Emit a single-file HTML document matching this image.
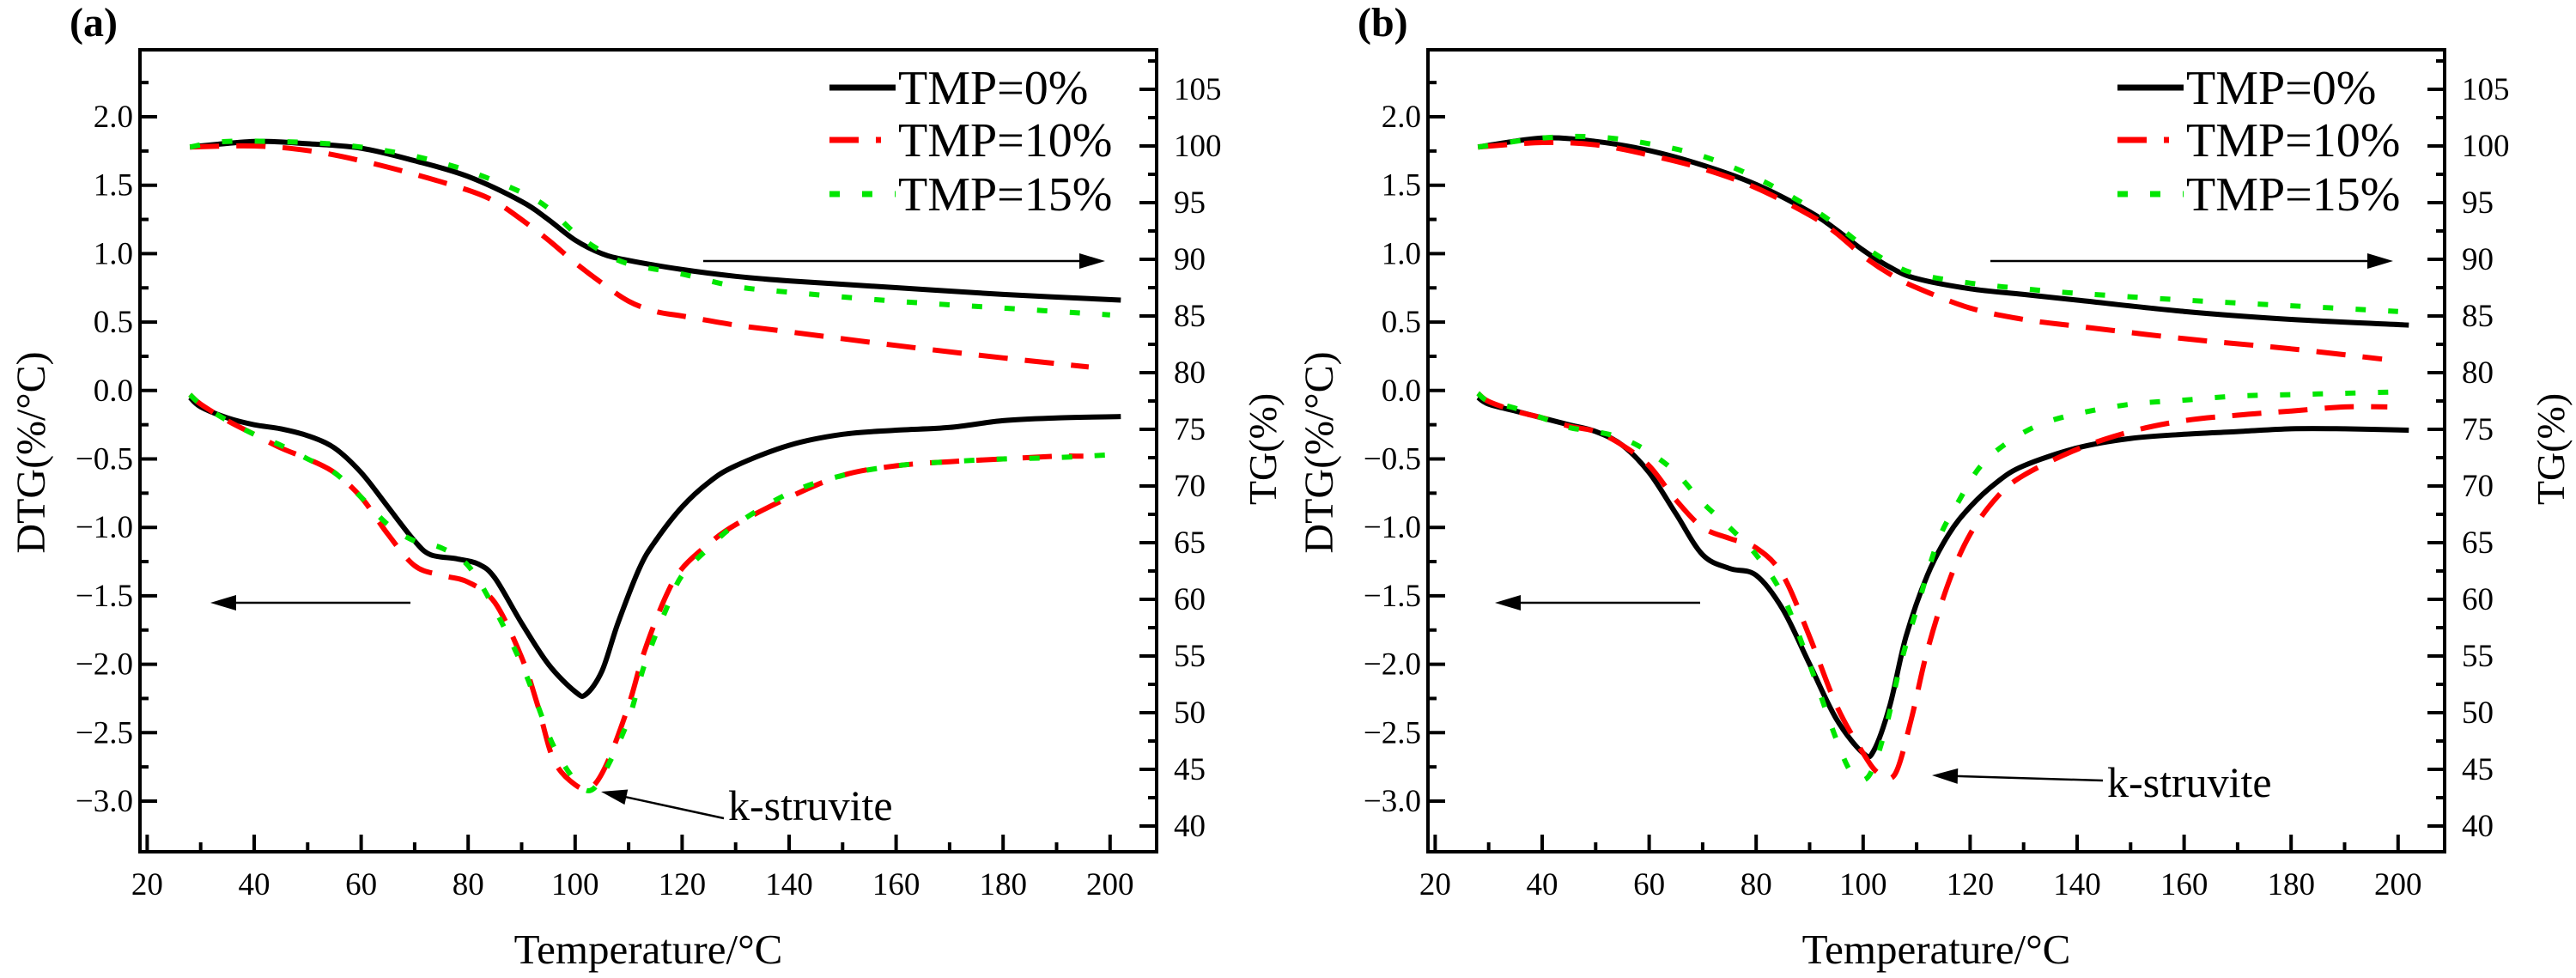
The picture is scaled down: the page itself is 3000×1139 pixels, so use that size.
<!DOCTYPE html>
<html><head><meta charset="utf-8"><style>
html,body{margin:0;padding:0;background:#fff;}
svg{display:block;}
text{font-family:"Liberation Serif","Times New Roman",serif;}
</style></head><body>
<svg id="c" width="3000" height="1139" viewBox="0 0 3000 1139" xmlns="http://www.w3.org/2000/svg" font-family="'Liberation Serif', serif"></svg>
<script>
// ---------- data ----------
const xTicks=[20,40,60,80,100,120,140,160,180,200];
const dtgTicks=[2.0,1.5,1.0,0.5,0.0,-0.5,-1.0,-1.5,-2.0,-2.5,-3.0];
const tgTicks=[105,100,95,90,85,80,75,70,65,60,55,50,45,40];
const seriesNames=["TMP=0%","TMP=10%","TMP=15%"];

// panel a TG
const aTgBlackT=[28,40,50,60,70,80,90,95,100,105,110,120,130,140,160,180,202];
const aTgBlack=[99.9,100.4,100.2,99.8,98.7,97.3,95.1,93.5,91.7,90.5,89.9,89.1,88.5,88.1,87.5,86.9,86.4];
const aTgRedT=[28,40,50,60,70,80,85,90,95,100,105,110,115,120,130,140,160,180,196];
const aTgRed=[99.9,100,99.6,98.7,97.5,96.1,95.1,93.5,91.7,89.7,87.9,86.3,85.4,85.0,84.2,83.6,82.4,81.3,80.5];
const aTgGreenT=[28,35,50,60,70,80,90,95,100,105,110,120,130,140,160,180,200];
const aTgGreen=[99.9,100.4,100.3,99.9,99.1,97.8,95.9,94.5,92.3,90.7,89.6,88.7,87.6,87.1,86.3,85.7,85.1];
// panel a DTG
const aDtgBlackT=[28,30,35,40,45,50,55,60,65,70,73,78,82,85,90,95,100,102,105,108,112,115,120,125,130,140,150,160,170,180,190,202];
const aDtgBlack=[-0.05,-0.12,-0.2,-0.25,-0.28,-0.33,-0.42,-0.6,-0.85,-1.1,-1.2,-1.23,-1.27,-1.37,-1.7,-2.0,-2.2,-2.22,-2.05,-1.7,-1.3,-1.1,-0.85,-0.67,-0.55,-0.4,-0.32,-0.29,-0.27,-0.22,-0.2,-0.19];
const aDtgRedT=[28,30,35,40,45,50,55,60,65,70,75,80,85,90,93,96,100,103,106,110,113,117,120,125,130,140,150,160,170,180,190,195];
const aDtgRed=[-0.03,-0.1,-0.22,-0.32,-0.42,-0.5,-0.6,-0.78,-1.05,-1.28,-1.35,-1.4,-1.55,-1.95,-2.3,-2.7,-2.88,-2.9,-2.72,-2.3,-1.9,-1.5,-1.3,-1.12,-0.98,-0.78,-0.62,-0.55,-0.52,-0.5,-0.48,-0.48];
const aDtgGreenT=[28,30,35,40,45,50,55,60,65,70,75,80,85,90,93,96,100,103,106,110,113,117,120,125,130,140,150,160,170,180,190,200];
const aDtgGreen=[-0.03,-0.1,-0.22,-0.32,-0.4,-0.5,-0.6,-0.78,-0.98,-1.1,-1.15,-1.28,-1.6,-2.0,-2.3,-2.6,-2.85,-2.92,-2.75,-2.4,-2.0,-1.6,-1.35,-1.15,-0.98,-0.75,-0.62,-0.55,-0.52,-0.5,-0.49,-0.47];
// panel b TG
const bTgBlackT=[28,40,50,60,70,80,90,95,100,105,110,120,130,140,160,180,202];
const bTgBlack=[99.9,100.7,100.4,99.6,98.3,96.6,94.2,92.6,90.8,89.3,88.3,87.4,86.9,86.4,85.4,84.7,84.2];
const bTgRedT=[28,40,50,60,70,80,90,95,100,105,110,120,130,140,160,180,197];
const bTgRed=[99.9,100.3,100.1,99.2,98.0,96.3,93.9,92.3,90.3,88.7,87.5,85.7,84.7,84.1,83.0,82.1,81.2];
const bTgGreenT=[28,40,50,60,70,80,90,95,100,105,110,120,130,140,160,180,200];
const bTgGreen=[99.9,100.7,100.8,100.2,99.1,97.2,94.6,93.0,91.2,89.7,88.7,87.9,87.4,87.0,86.4,85.9,85.4];
// panel b DTG
const bDtgBlackT=[28,30,35,40,45,50,55,60,65,70,75,80,85,90,95,100,102,105,108,112,116,120,125,130,140,150,160,170,180,190,202];
const bDtgBlack=[-0.05,-0.1,-0.15,-0.2,-0.25,-0.3,-0.4,-0.6,-0.9,-1.2,-1.3,-1.35,-1.6,-2.0,-2.4,-2.65,-2.63,-2.3,-1.8,-1.35,-1.05,-0.85,-0.67,-0.55,-0.42,-0.35,-0.32,-0.3,-0.28,-0.28,-0.29];
const bDtgRedT=[28,30,35,40,45,50,55,60,65,70,75,80,85,90,95,100,103,106,109,112,116,120,125,130,140,150,160,170,180,190,198];
const bDtgRed=[-0.02,-0.08,-0.15,-0.2,-0.26,-0.3,-0.4,-0.55,-0.8,-1.0,-1.08,-1.15,-1.35,-1.8,-2.3,-2.65,-2.8,-2.8,-2.4,-1.9,-1.4,-1.05,-0.78,-0.62,-0.43,-0.3,-0.22,-0.18,-0.15,-0.12,-0.12];
const bDtgGreenT=[28,30,35,40,45,50,55,60,65,70,75,80,85,90,95,98,101,104,107,110,114,118,122,127,133,140,150,160,170,180,190,200];
const bDtgGreen=[-0.02,-0.08,-0.13,-0.2,-0.27,-0.3,-0.35,-0.45,-0.6,-0.82,-1.0,-1.2,-1.5,-2.0,-2.55,-2.8,-2.82,-2.5,-2.0,-1.6,-1.1,-0.8,-0.55,-0.38,-0.25,-0.17,-0.1,-0.07,-0.04,-0.03,-0.02,-0.01];

// ---------- drawing ----------
const NS="http://www.w3.org/2000/svg";
const svg=document.getElementById('c');
const FF="'Liberation Serif', 'Times New Roman', serif";
function mk(tag,attrs,parent){const e=document.createElementNS(NS,tag);for(const k in attrs)e.setAttribute(k,attrs[k]);if(tag==='text')e.setAttribute('font-family',FF);(parent||svg).appendChild(e);return e;}
function smooth(pts){let d="M"+pts[0][0].toFixed(1)+","+pts[0][1].toFixed(1);
 for(let i=0;i<pts.length-1;i++){const p0=pts[i-1]||pts[i],p1=pts[i],p2=pts[i+1],p3=pts[i+2]||p2;
  const c1=[p1[0]+(p2[0]-p0[0])/6,p1[1]+(p2[1]-p0[1])/6],c2=[p2[0]-(p3[0]-p1[0])/6,p2[1]-(p3[1]-p1[1])/6];
  d+="C"+c1[0].toFixed(1)+","+c1[1].toFixed(1)+" "+c2[0].toFixed(1)+","+c2[1].toFixed(1)+" "+p2[0].toFixed(1)+","+p2[1].toFixed(1);}
 return d;}
const styles=[{stroke:"#000",dash:null},{stroke:"#ff0000",dash:"34 20"},{stroke:"#00e600",dash:"12 26"}];

function panel(off,label,tg,dtg,ann){
 const g=mk('g',{});
 
 
 const L=163+off,R=1347+off,T=58,B=992;
 const X=v=>171.4+off+(v-20)*6.23;
 const YD=v=>136+(2-v)*159.4;
 const YT=v=>104+(105-v)*13.2;
 const box=mk('rect',{x:L,y:T,width:R-L,height:B-T,fill:"none",stroke:"#000","stroke-width":4},g);
 
 
 xTicks.forEach(v=>{mk('line',{x1:X(v),x2:X(v),y1:B,y2:B-20,stroke:"#000","stroke-width":4},g);
  if(v<200)mk('line',{x1:X(v+10),x2:X(v+10),y1:B,y2:B-11,stroke:"#000","stroke-width":4},g);
  const t=mk('text',{x:X(v),y:1042,"font-size":37,"text-anchor":"middle"},g);t.textContent=v;
  
  });
 dtgTicks.forEach(v=>{mk('line',{x1:L,x2:L+20,y1:YD(v),y2:YD(v),stroke:"#000","stroke-width":4},g);
  mk('line',{x1:L,x2:L+10,y1:YD(v+0.25),y2:YD(v+0.25),stroke:"#000","stroke-width":4},g);
  const t=mk('text',{x:L-8,y:YD(v)+12,"font-size":37,"text-anchor":"end"},g);t.textContent=(v<0?"\u2212":"")+Math.abs(v).toFixed(1);
  
  });
 tgTicks.forEach(v=>{mk('line',{x1:R,x2:R-20,y1:YT(v),y2:YT(v),stroke:"#000","stroke-width":4},g);
  mk('line',{x1:R,x2:R-10,y1:YT(v+2.5),y2:YT(v+2.5),stroke:"#000","stroke-width":4},g);
  const t=mk('text',{x:R+20,y:YT(v)+12,"font-size":37},g);t.textContent=v;
  
  });
 let t=mk('text',{x:755+off,y:1122,"font-size":49,"text-anchor":"middle"},g);t.textContent="Temperature/\u00b0C";
 
 t=mk('text',{x:0,y:0,"font-size":48,"text-anchor":"middle",transform:`translate(${52+off},527) rotate(-90)`},g);t.textContent="DTG(%/\u00b0C)";
 
 t=mk('text',{x:0,y:0,"font-size":46,"text-anchor":"middle",transform:`translate(${1486+off},523) rotate(-90)`},g);t.textContent="TG(%)";
 
 t=mk('text',{x:81+off,y:42,"font-size":48,"font-weight":"bold"},g);t.textContent="("+label+")";
 
 for(let i=0;i<3;i++){
  const s=styles[i];
  const p1=mk('path',{d:smooth(tg[i][0].map((x,j)=>[X(x),YT(tg[i][1][j])])),fill:"none",stroke:s.stroke,"stroke-width":6},g);
  if(s.dash)p1.setAttribute('stroke-dasharray',s.dash);
  
  
  const p2=mk('path',{d:smooth(dtg[i][0].map((x,j)=>[X(x),YD(dtg[i][1][j])])),fill:"none",stroke:s.stroke,"stroke-width":6},g);
  if(s.dash)p2.setAttribute('stroke-dasharray',s.dash);
  
  
  const ly=[102,163,226][i];
  const ll=mk('line',{x1:966+off,x2:1043+off,y1:ly,y2:ly,stroke:s.stroke,"stroke-width":7},g);
  if(s.dash)ll.setAttribute('stroke-dasharray',i==1?"34 20 6 20":"12 26");
  
  const lt=mk('text',{x:1046+off,y:ly+19,"font-size":56},g);lt.textContent=seriesNames[i];
  
 }
 function arrow(x1,y1,x2,y2,name){const a=Math.atan2(y2-y1,x2-x1),h=30,w=9;
  const ln=mk('line',{x1:x1,y1:y1,x2:x2-Math.cos(a)*h*0.8,y2:y2-Math.sin(a)*h*0.8,stroke:"#000","stroke-width":2.5},g);
  
  const bx=x2-Math.cos(a)*h,by=y2-Math.sin(a)*h;
  mk('polygon',{points:`${x2},${y2} ${bx-Math.sin(a)*w},${by+Math.cos(a)*w} ${bx+Math.sin(a)*w},${by-Math.cos(a)*w}`,fill:"#000"},g);}
 arrow(ann.la[0]+off,702,ann.la[1]+off,702,'dtg-axis-arrow');
 arrow(ann.ra[0]+off,304,ann.ra[1]+off,304,'tg-axis-arrow');
 arrow(ann.ka[0]+off,ann.ka[1],ann.ka[2]+off,ann.ka[3],'k-struvite-arrow');
 t=mk('text',{x:ann.kt[0]+off,y:ann.kt[1],"font-size":50},g);t.textContent="k-struvite";
 
}
panel(0,'a',
 [[aTgBlackT,aTgBlack],[aTgRedT,aTgRed],[aTgGreenT,aTgGreen]],
 [[aDtgBlackT,aDtgBlack],[aDtgRedT,aDtgRed],[aDtgGreenT,aDtgGreen]],
 {la:[478,245],ra:[819,1287],ka:[843,953,700,922],kt:[848,955]});
panel(1500,'b',
 [[bTgBlackT,bTgBlack],[bTgRedT,bTgRed],[bTgGreenT,bTgGreen]],
 [[bDtgBlackT,bDtgBlack],[bDtgRedT,bDtgRed],[bDtgGreenT,bDtgGreen]],
 {la:[480,241],ra:[818,1287],ka:[949,909,750,903],kt:[954,928]});
</script>
</body></html>
